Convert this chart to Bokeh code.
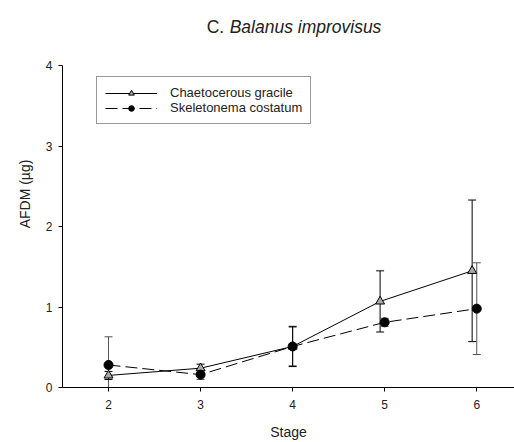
from bokeh.plotting import figure
from bokeh.models import Range1d, FixedTicker, Legend, LegendItem, Label, ColumnDataSource
from bokeh.embed import file_html
from bokeh.resources import INLINE

# ---- data ----
stages_cg = [2, 3, 4, 4.95, 5.95]
afdm_cg = [0.15, 0.24, 0.51, 1.07, 1.45]
err_cg = [0.05, 0.05, 0.25, 0.38, 0.88]

stages_sc = [2, 3, 4, 5, 6]
afdm_sc = [0.28, 0.16, 0.51, 0.81, 0.98]
err_sc = [0.35, 0.06, 0.24, 0.05, 0.57]

x_ticks = [2, 3, 4, 5, 6]
y_ticks = [0, 1, 2, 3, 4]

FONT = "Liberation Sans"

# frame extends to the top of the canvas so the mixed-style title can be drawn inside it;
# the y axis line itself is bounded to 0..4
p = figure(width=514, height=442, output_backend="svg", toolbar_location=None,
           x_range=Range1d(1.5, 6.41), y_range=Range1d(0, 4.81),
           min_border_left=62, min_border_right=0, min_border_top=0, min_border_bottom=55)
p.outline_line_color = None
p.grid.visible = False
p.background_fill_color = "white"
p.border_fill_color = "white"

for ax in (p.xaxis[0], p.yaxis[0]):
    ax.axis_line_color = "black"
    ax.major_tick_line_color = "black"
    ax.major_tick_out = 4
    ax.major_tick_in = 0
    ax.minor_tick_line_color = None
    ax.major_label_text_font = FONT
    ax.major_label_text_font_size = "12px"
    ax.major_label_text_color = "#222222"
    ax.axis_label_text_font = FONT
    ax.axis_label_text_font_size = "14px"
    ax.axis_label_text_font_style = "normal"
    ax.axis_label_text_color = "#222222"

p.xaxis.ticker = FixedTicker(ticks=x_ticks)
p.yaxis.ticker = FixedTicker(ticks=y_ticks)
p.yaxis.bounds = (y_ticks[0], y_ticks[-1])
p.xaxis.axis_label = "Stage"
p.yaxis.axis_label = "AFDM (µg)"
p.xaxis.major_label_standoff = 8
p.xaxis.axis_label_standoff = 12
p.yaxis.major_label_standoff = 6
p.yaxis.axis_label_standoff = 10

# error bars
src_cg = ColumnDataSource(dict(x=stages_cg, y=afdm_cg,
                               lo=[a - e for a, e in zip(afdm_cg, err_cg)],
                               hi=[a + e for a, e in zip(afdm_cg, err_cg)]))
src_sc = ColumnDataSource(dict(x=stages_sc, y=afdm_sc,
                               lo=[a - e for a, e in zip(afdm_sc, err_sc)],
                               hi=[a + e for a, e in zip(afdm_sc, err_sc)]))

p.segment(x0="x", y0="lo", x1="x", y1="hi", source=src_sc, line_color="#555555", line_width=1)
p.scatter(x="x", y="lo", source=src_sc, marker="dash", size=8, line_color="#555555", line_width=1)
p.scatter(x="x", y="hi", source=src_sc, marker="dash", size=8, line_color="#555555", line_width=1)

p.segment(x0="x", y0="lo", x1="x", y1="hi", source=src_cg, line_color="black", line_width=1)
p.scatter(x="x", y="lo", source=src_cg, marker="dash", size=8, line_color="black", line_width=1)
p.scatter(x="x", y="hi", source=src_cg, marker="dash", size=8, line_color="black", line_width=1)

# series
l_cg = p.line(x="x", y="y", source=src_cg, line_color="black", line_width=1)
m_cg = p.scatter(x="x", y="y", source=src_cg, marker="triangle", size=9,
                 fill_color="#a8a8a8", line_color="black", line_width=1)
l_sc = p.line(x="x", y="y", source=src_sc, line_color="black", line_width=1, line_dash="12 5")
m_sc = p.scatter(x="x", y="y", source=src_sc, marker="circle", size=9,
                 fill_color="black", line_color="black")

legend = Legend(items=[LegendItem(label="Chaetocerous gracile", renderers=[l_cg, m_cg]),
                       LegendItem(label="Skeletonema costatum", renderers=[l_sc, m_sc])],
                location=(34, 263), orientation="vertical",
                label_text_font=FONT, label_text_font_size="13px", label_text_color="#222222",
                glyph_width=52, glyph_height=14, label_height=14, label_width=124,
                label_standoff=13, spacing=0, padding=8, margin=0,
                border_line_color="#333333", border_line_width=1,
                background_fill_color="white", background_fill_alpha=1)
p.add_layout(legend, "center")

# title (mixed style)
p.add_layout(Label(x=4.0, y=4.0, x_offset=-86, y_offset=39, text="C.",
                   text_font=FONT, text_font_size="17.5px", text_color="#222222",
                   text_baseline="alphabetic", text_align="left"))
p.add_layout(Label(x=4.0, y=4.0, x_offset=-63, y_offset=39, text="Balanus improvisus",
                   text_font=FONT, text_font_size="17.5px", text_font_style="italic",
                   text_color="#222222", text_baseline="alphabetic", text_align="left"))

open("out.html", "w").write(file_html(p, INLINE))
